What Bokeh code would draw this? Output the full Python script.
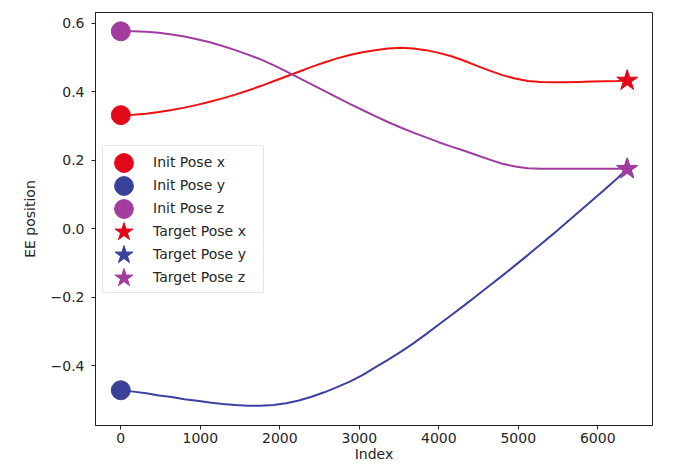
from bokeh.plotting import figure
from bokeh.models import (Range1d, FixedTicker, CustomJSTickFormatter, ColumnDataSource,
                          Legend, LegendItem)
from bokeh.embed import file_html
from bokeh.resources import INLINE

# ---- data ----
index = [0, 160, 320, 480, 640, 800, 960, 1120, 1280, 1440, 1600, 1760, 1920, 2080,
         2240, 2400, 2560, 2720, 2880, 3040, 3200, 3360, 3520, 3680, 3840, 4000,
         4160, 4320, 4480, 4640, 4800, 4960, 5120, 5280, 5440, 5600, 5760, 5920,
         6080, 6240, 6370]
pose_x = [0.332, 0.333, 0.336, 0.341, 0.347, 0.354, 0.362, 0.371, 0.381, 0.392, 0.404,
          0.417, 0.431, 0.445, 0.459, 0.473, 0.486, 0.498, 0.508, 0.516, 0.522, 0.527,
          0.529, 0.527, 0.522, 0.514, 0.504, 0.491, 0.476, 0.462, 0.449, 0.439, 0.432,
          0.429, 0.428, 0.428, 0.429, 0.430, 0.431, 0.432, 0.433]
pose_y = [-0.472, -0.476, -0.481, -0.487, -0.492, -0.498, -0.503, -0.508, -0.512, -0.515,
          -0.517, -0.517, -0.515, -0.510, -0.502, -0.491, -0.478, -0.463, -0.447, -0.428,
          -0.405, -0.383, -0.360, -0.335, -0.308, -0.280, -0.252, -0.224, -0.195, -0.166,
          -0.137, -0.107, -0.077, -0.046, -0.015, 0.017, 0.049, 0.081, 0.113, 0.146, 0.175]
pose_z = [0.577, 0.577, 0.576, 0.573, 0.568, 0.562, 0.554, 0.545, 0.534, 0.522, 0.509,
          0.495, 0.478, 0.460, 0.441, 0.422, 0.403, 0.384, 0.365, 0.347, 0.329, 0.312,
          0.296, 0.281, 0.267, 0.253, 0.240, 0.228, 0.215, 0.202, 0.190, 0.182, 0.177,
          0.175, 0.175, 0.175, 0.175, 0.175, 0.175, 0.175, 0.175]

init_index = [0]
init_x = [0.332]
init_y = [-0.472]
init_z = [0.577]

target_index = [6370]
target_x = [0.433]
target_y = [0.175]
target_z = [0.175]

labels = ["Init Pose x", "Init Pose y", "Init Pose z",
          "Target Pose x", "Target Pose y", "Target Pose z"]
x_ticks = [0, 1000, 2000, 3000, 4000, 5000, 6000]
y_ticks = [-0.4, -0.2, 0.0, 0.2, 0.4, 0.6]

RED_L, BLUE_L, PURPLE_L = "#f21010", "#3c40a0", "#a03ca2"
RED_M, BLUE_M, PURPLE_M = "#e2081a", "#3a4198", "#a33c9f"
FONT = "DejaVu Sans"
TXT = "#262626"

p = figure(width=666, height=465, output_backend="svg", toolbar_location=None,
           x_range=Range1d(-318.5, 6688.5), y_range=Range1d(-0.575, 0.632),
           min_border_left=95, min_border_right=14, min_border_top=12, min_border_bottom=40)
p.xgrid.visible = False
p.ygrid.visible = False
p.outline_line_color = "#222222"
p.outline_line_width = 1
p.outline_line_alpha = 1.0
p.background_fill_color = "white"

p.xaxis.ticker = FixedTicker(ticks=x_ticks, minor_ticks=[])
p.yaxis.ticker = FixedTicker(ticks=y_ticks, minor_ticks=[])
p.yaxis.formatter = CustomJSTickFormatter(code="return tick.toFixed(1).replace('-', '\\u2212');")

for ax in (p.xaxis[0], p.yaxis[0]):
    ax.axis_line_color = "#222222"
    ax.major_tick_line_color = "#222222"
    ax.major_tick_in = 0
    ax.major_tick_out = 4
    ax.minor_tick_out = 0
    ax.minor_tick_in = 0
    ax.major_label_text_font = FONT
    ax.major_label_text_font_size = "14px"
    ax.major_label_text_color = TXT
    ax.axis_label_text_font = FONT
    ax.axis_label_text_font_size = "14px"
    ax.axis_label_text_font_style = "normal"
    ax.axis_label_text_color = TXT

p.xaxis.axis_label = "Index"
p.yaxis.axis_label = "EE position"
p.xaxis.major_label_standoff = 3
p.xaxis.axis_label_standoff = 0
p.yaxis.major_label_standoff = 7
p.yaxis.axis_label_standoff = 10

src = ColumnDataSource(dict(index=index, px=pose_x, py=pose_y, pz=pose_z))
p.line("index", "px", source=src, color=RED_L, line_width=2)
p.line("index", "py", source=src, color=BLUE_L, line_width=2)
p.line("index", "pz", source=src, color=PURPLE_L, line_width=2)

marker_specs = [
    (init_index, init_x, "circle", 19, RED_M),
    (init_index, init_y, "circle", 19, BLUE_M),
    (init_index, init_z, "circle", 19, PURPLE_M),
    (target_index, target_x, "star", 22, RED_M),
    (target_index, target_y, "star", 22, BLUE_M),
    (target_index, target_z, "star", 22, PURPLE_M),
]
real = []
dummy = []
for xs, ys, mk, sz, col in marker_specs:
    real.append(p.scatter(xs, ys, marker=mk, size=sz, color=col))
for xs, ys, mk, sz, col in marker_specs:
    dummy.append(p.scatter(xs, ys, marker=mk, size=1, color=col, alpha=0))

# legend box + labels
legend = Legend(items=[LegendItem(label=lab, renderers=[d]) for lab, d in zip(labels, dummy)],
                location=(7, 132))
legend.glyph_width = 36
legend.glyph_height = 23
legend.label_height = 23
legend.spacing = 0
legend.padding = 4
legend.margin = 0
legend.label_standoff = 10
legend.label_width = 106
legend.label_text_font = FONT
legend.label_text_font_size = "14px"
legend.label_text_color = TXT
legend.border_line_color = "#cccccc"
legend.border_line_width = 1
legend.background_fill_alpha = 0.8
if hasattr(Legend, "border_radius"):
    legend.border_radius = 3
p.add_layout(legend, "center")

# big legend markers, one small legend per row
for i, r in enumerate(real):
    lg = Legend(items=[LegendItem(label=" ", renderers=[r])], location=(5, 239 - 23 * i))
    lg.glyph_width = 47
    lg.glyph_height = 47
    lg.label_height = 47
    lg.label_width = 0
    lg.label_standoff = 0
    lg.spacing = 0
    lg.padding = 0
    lg.margin = 0
    lg.border_line_color = None
    lg.background_fill_color = None
    lg.background_fill_alpha = 0
    p.add_layout(lg, "center")

open("out.html", "w").write(file_html(p, INLINE))
